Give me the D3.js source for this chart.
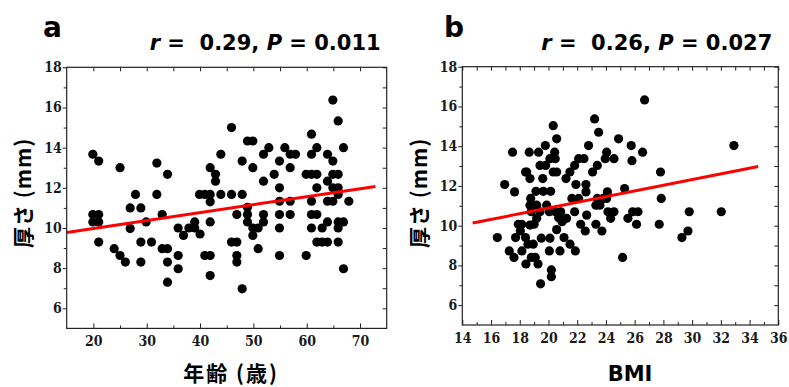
<!DOCTYPE html>
<html>
<head>
<meta charset="utf-8">
<script src="https://cdn.jsdelivr.net/npm/d3@7"></script>
<style>
  body { margin: 0; background: #fff; }
  svg { display: block; }
</style>
</head>
<body>
<svg id="chart" width="789" height="387"></svg>
<script>
// panel a: age vs thickness
const ageA = [
  19.9, 21, 19.9, 21, 19.9, 21, 21, 25, 23.9, 25,
  26, 27.9, 26.9, 28.9, 26.9, 29.9, 28.9, 28.9, 31.9, 31.9,
  32.9, 30.9, 33.9, 32.9, 33.9, 33.9, 33.9, 35.9, 36.9, 35.9,
  35.9, 37.9, 39, 39, 40, 39.9, 40.9, 41.9, 41.9, 42.9,
  42.9, 43.9, 43.9, 41.9, 41.9, 40.9, 41.9, 41.9, 45.9, 45.9,
  46.9, 45.9, 46.9, 46.9, 46.9, 47.9, 47.9, 47.9, 48.9, 49.9,
  49.9, 48.9, 48.9, 48.9, 49.9, 49.9, 50.9, 50.9, 51.9, 51.9,
  51.9, 51.9, 52.9, 53.9, 54.9, 54.9, 54.9, 54.9, 54.9, 54.9,
  55.9, 56.9, 57.9, 56.9, 56.9, 56.9, 59.9, 60.9, 60.9, 59.9,
  60.9, 61.9, 61.9, 61.9, 60.9, 60.9, 61.9, 60.9, 61.9, 62.9,
  62.9, 63.9, 63.9, 63.9, 63.9, 63.9, 64.9, 64.9, 65.9, 64.9,
  65.9, 64.9, 65.9, 64.9, 65.9, 66.9, 65.9, 66.9, 65.9, 65.9,
  66.9, 67.9,
];
const thickA = [
  13.67, 13.33, 10.67, 10.67, 10.3, 10.3, 9.3, 13, 8.97, 8.63,
  8.3, 11.67, 11, 11, 9.97, 10.3, 9.3, 8.3, 13.23, 11.67,
  10.67, 9.3, 12.67, 8.97, 8.97, 8.3, 7.3, 10, 9.63, 8.63,
  7.97, 10, 10.3, 10, 9.7, 11.67, 11.67, 11.67, 13, 12.67,
  12.33, 11.67, 13.67, 11.3, 10.3, 8.63, 8.63, 7.63, 15, 11.67,
  10.67, 9.3, 9.3, 8.63, 8.3, 6.97, 13.33, 11.67, 14.33, 14.33,
  13, 11.03, 10.67, 10.3, 10, 9.63, 10, 8.97, 10.67, 10.3,
  12.33, 13.67, 14, 12.67, 13.33, 12, 11.33, 10.67, 10, 8.63,
  14, 13.67, 13.67, 13, 11.33, 10.67, 8.63, 14.67, 13.67, 12.67,
  12.67, 12.67, 14, 12, 11.33, 10.67, 10.67, 10, 9.3, 10,
  9.3, 9.3, 10.3, 11.33, 12.33, 13.67, 13.33, 12.67, 12.67, 12,
  12, 11.33, 11.67, 16.37, 15.33, 14, 10.3, 10.3, 10, 9.3,
  7.97, 11.33,
];
const fitA = [[15, 9.77], [72.9, 12.07]];

// panel b: BMI vs thickness
const bmiB = [
  26.69, 32.91, 23.21, 23.49, 24.88, 25.76, 26.55, 25.81, 20.33, 20.57,
  19.78, 17.5, 18.66, 19.31, 20.43, 20.1, 19.41, 18.48, 18.71, 19.6,
  20.33, 20.57, 22.79, 24.05, 23.95, 24.56, 22.47, 22.1, 21.82, 21.49,
  21.22, 23.4, 23.07, 27.8, 16.95, 17.64, 19.13, 19.64, 20.15, 18.76,
  19.18, 18.8, 19.41, 20.06, 20.48, 20.85, 21.91, 22.61, 22.61, 21.63,
  22.1, 23.3, 23.58, 24.1, 25.3, 27.85, 24.05, 23.81, 21.82, 22.66,
  24.14, 24.56, 24.33, 25.86, 26.23, 25.53, 26.13, 27.71, 29.8, 32.03,
  29.71, 29.29, 25.16, 16.44, 17.9, 18.13, 17.71, 18.04, 18.4, 18.57,
  18.94, 17.27, 17.6, 18.15, 18.8, 18.43, 19.08, 19.27, 19, 19.18,
  19.5, 20.1, 20.06, 20.8, 20.2, 20.2, 19.45, 20.57, 20.94, 21.26,
  21.08, 21.5, 21.87, 22.24, 22.56, 23.3, 23.72, 18.71, 19.87, 20.71,
  18.71, 19.8, 18.4, 20.47, 23.4,
];
const thickB = [
  16.33, 14.03, 15.37, 14.7, 14.37, 14.03, 13.7, 13.27, 15.03, 14.37,
  14.03, 13.7, 13.7, 13.7, 13.7, 13.37, 13.03, 12.7, 12.37, 12.37,
  12.7, 12.7, 14.03, 13.7, 13.37, 13.37, 13.37, 13.37, 13.03, 12.7,
  12.37, 13.03, 12.7, 12.7, 12.07, 11.7, 11.73, 11.73, 11.73, 11.37,
  11.03, 10.7, 10.7, 10.7, 10.7, 10.7, 12.07, 12.07, 11.7, 11.37,
  11.37, 11.03, 11.03, 11.7, 11.87, 11.37, 11.37, 11.37, 10.7, 10.53,
  10.7, 10.7, 10.37, 10.7, 10.7, 10.37, 10.07, 10.07, 10.7, 10.7,
  9.73, 9.4, 8.4, 9.4, 10.07, 10.07, 9.4, 9.73, 9.4, 9.07,
  9.07, 8.73, 8.4, 8.73, 8.4, 8.07, 8.4, 8.07, 10.07, 10.37,
  9.37, 9.37, 8.73, 8.73, 7.77, 7.43, 7.07, 9.8, 10.2, 10.37,
  9.4, 9.07, 8.73, 10.07, 9.73, 10.07, 9.73, 10.03, 11.03, 10.4,
  11.03, 13.03, 12.7, 13.37, 11.37,
];
const fitB = [[14.72, 10.13], [34.6, 12.98]];

const yTicks = [6, 8, 10, 12, 14, 16, 18];
const yMinor = [7, 9, 11, 13, 15, 17];
const xTicksA = [20, 30, 40, 50, 60, 70];
const xMinorA = [25, 35, 45, 55, 65];
const xTicksB = d3.range(14, 37, 2);
const xMinorB = d3.range(15, 36, 2);

const svg = d3.select('#chart');
const sans = "DejaVu Sans, Noto Sans CJK JP, sans-serif";
const cjk = "Noto Sans CJK JP, DejaVu Sans, sans-serif";
const serif = "DejaVu Serif Condensed, DejaVu Serif, serif";

function drawPanel(p) {
  const x = d3.scaleLinear().domain(p.xDomain).range([p.left, p.right]);
  const y = d3.scaleLinear().domain([5, 18]).range([p.bottom, p.top]);
  const g = svg.append('g');

  // points
  g.append('g')
    .selectAll('circle')
    .data(d3.zip(p.xs, p.ys))
    .join('circle')
    .attr('cx', (d) => x(d[0]))
    .attr('cy', (d) => y(d[1]))
    .attr('r', 4.6)
    .attr('fill', '#000');

  // regression line
  g.append('path')
    .attr('d', d3.line().x((d) => x(d[0])).y((d) => y(d[1]))(p.fit))
    .attr('stroke', '#f00')
    .attr('stroke-width', 3)
    .attr('fill', 'none');

  const addAxis = (axis, tx, ty) => {
    const a = g.append('g').attr('transform', `translate(${tx},${ty})`).call(axis);
    a.select('.domain').remove();
    a.selectAll('line').attr('stroke', '#222');
    a.selectAll('text')
      .attr('fill', '#1a1a1a')
      .attr('font-family', serif)
      .attr('font-stretch', 'condensed')
      .attr('font-weight', 'bold')
      .attr('font-size', 14);
    return a;
  };

  // bottom: inward ticks with labels
  addAxis(d3.axisBottom(x).tickValues(p.xTicks).tickSize(-5).tickPadding(8).tickFormat(d3.format('d')), 0, p.bottom);
  addAxis(d3.axisBottom(x).tickValues(p.xMinor).tickSize(-3).tickFormat(''), 0, p.bottom);
  // top: inward ticks
  addAxis(d3.axisTop(x).tickValues(p.xTicks.concat(p.xMinor)).tickSize(-4).tickFormat(''), 0, p.top);
  // left: outward ticks with labels
  addAxis(d3.axisLeft(y).tickValues(yTicks).tickSize(4).tickPadding(1).tickFormat(d3.format('d')), p.left, 0);
  addAxis(d3.axisLeft(y).tickValues(yMinor).tickSize(3).tickFormat(''), p.left, 0);
  // right: inward ticks
  addAxis(d3.axisRight(y).tickValues(yTicks.concat(yMinor)).tickSize(-4).tickFormat(''), p.right, 0);

  // frame
  g.append('rect')
    .attr('x', p.left)
    .attr('y', p.top)
    .attr('width', p.right - p.left)
    .attr('height', p.bottom - p.top)
    .attr('fill', 'none')
    .attr('stroke', '#222')
    .attr('stroke-width', 1.2);

  // panel letter
  g.append('text')
    .attr('x', p.letterX)
    .attr('y', 37)
    .attr('font-family', sans)
    .attr('font-weight', 'bold')
    .attr('font-size', 28)
    .text(p.letter);

  // statistics
  const st = g.append('text')
    .attr('x', p.right - 6)
    .attr('y', 50)
    .attr('text-anchor', 'end')
    .attr('font-family', sans)
    .attr('font-weight', 'bold')
    .attr('font-size', 21)
    .style('white-space', 'pre');
  st.append('tspan').attr('font-style', 'italic').text('r');
  st.append('tspan').text(` =  ${p.r}, `);
  st.append('tspan').attr('font-style', 'italic').text('P');
  st.append('tspan').text(` = ${p.pv}`);

  // x label
  g.append('text')
    .attr('x', p.xLabelX)
    .attr('y', 381)
    .attr('text-anchor', 'middle')
    .attr('font-family', p.xLabelFont)
    .attr('font-weight', 'bold')
    .attr('font-size', 21)
    .attr('letter-spacing', p.xLabelSpacing)
    .text(p.xLabel);

  // y label
  g.append('text')
    .attr('transform', `translate(${p.yLabelX},193) rotate(-90)`)
    .attr('text-anchor', 'middle')
    .attr('font-family', cjk)
    .attr('font-weight', 'bold')
    .attr('font-size', 21)
    .attr('letter-spacing', 1)
    .text('厚さ (mm)');
}

drawPanel({
  left: 66.7, right: 386.7, top: 67.3, bottom: 328.4,
  xDomain: [15, 75], xTicks: xTicksA, xMinor: xMinorA,
  xs: ageA, ys: thickA, fit: fitA,
  letter: 'a', letterX: 43, r: '0.29', pv: '0.011',
  xLabel: '年齢 (歳)', xLabelX: 231, xLabelFont: cjk, xLabelSpacing: 2, yLabelX: 31,
});
drawPanel({
  left: 462.3, right: 778.3, top: 66.7, bottom: 325,
  xDomain: [14, 36], xTicks: xTicksB, xMinor: xMinorB,
  xs: bmiB, ys: thickB, fit: fitB,
  letter: 'b', letterX: 444, r: '0.26', pv: '0.027',
  xLabel: 'BMI', xLabelX: 630, xLabelFont: sans, xLabelSpacing: 0, yLabelX: 427,
});
</script>
</body>
</html>
